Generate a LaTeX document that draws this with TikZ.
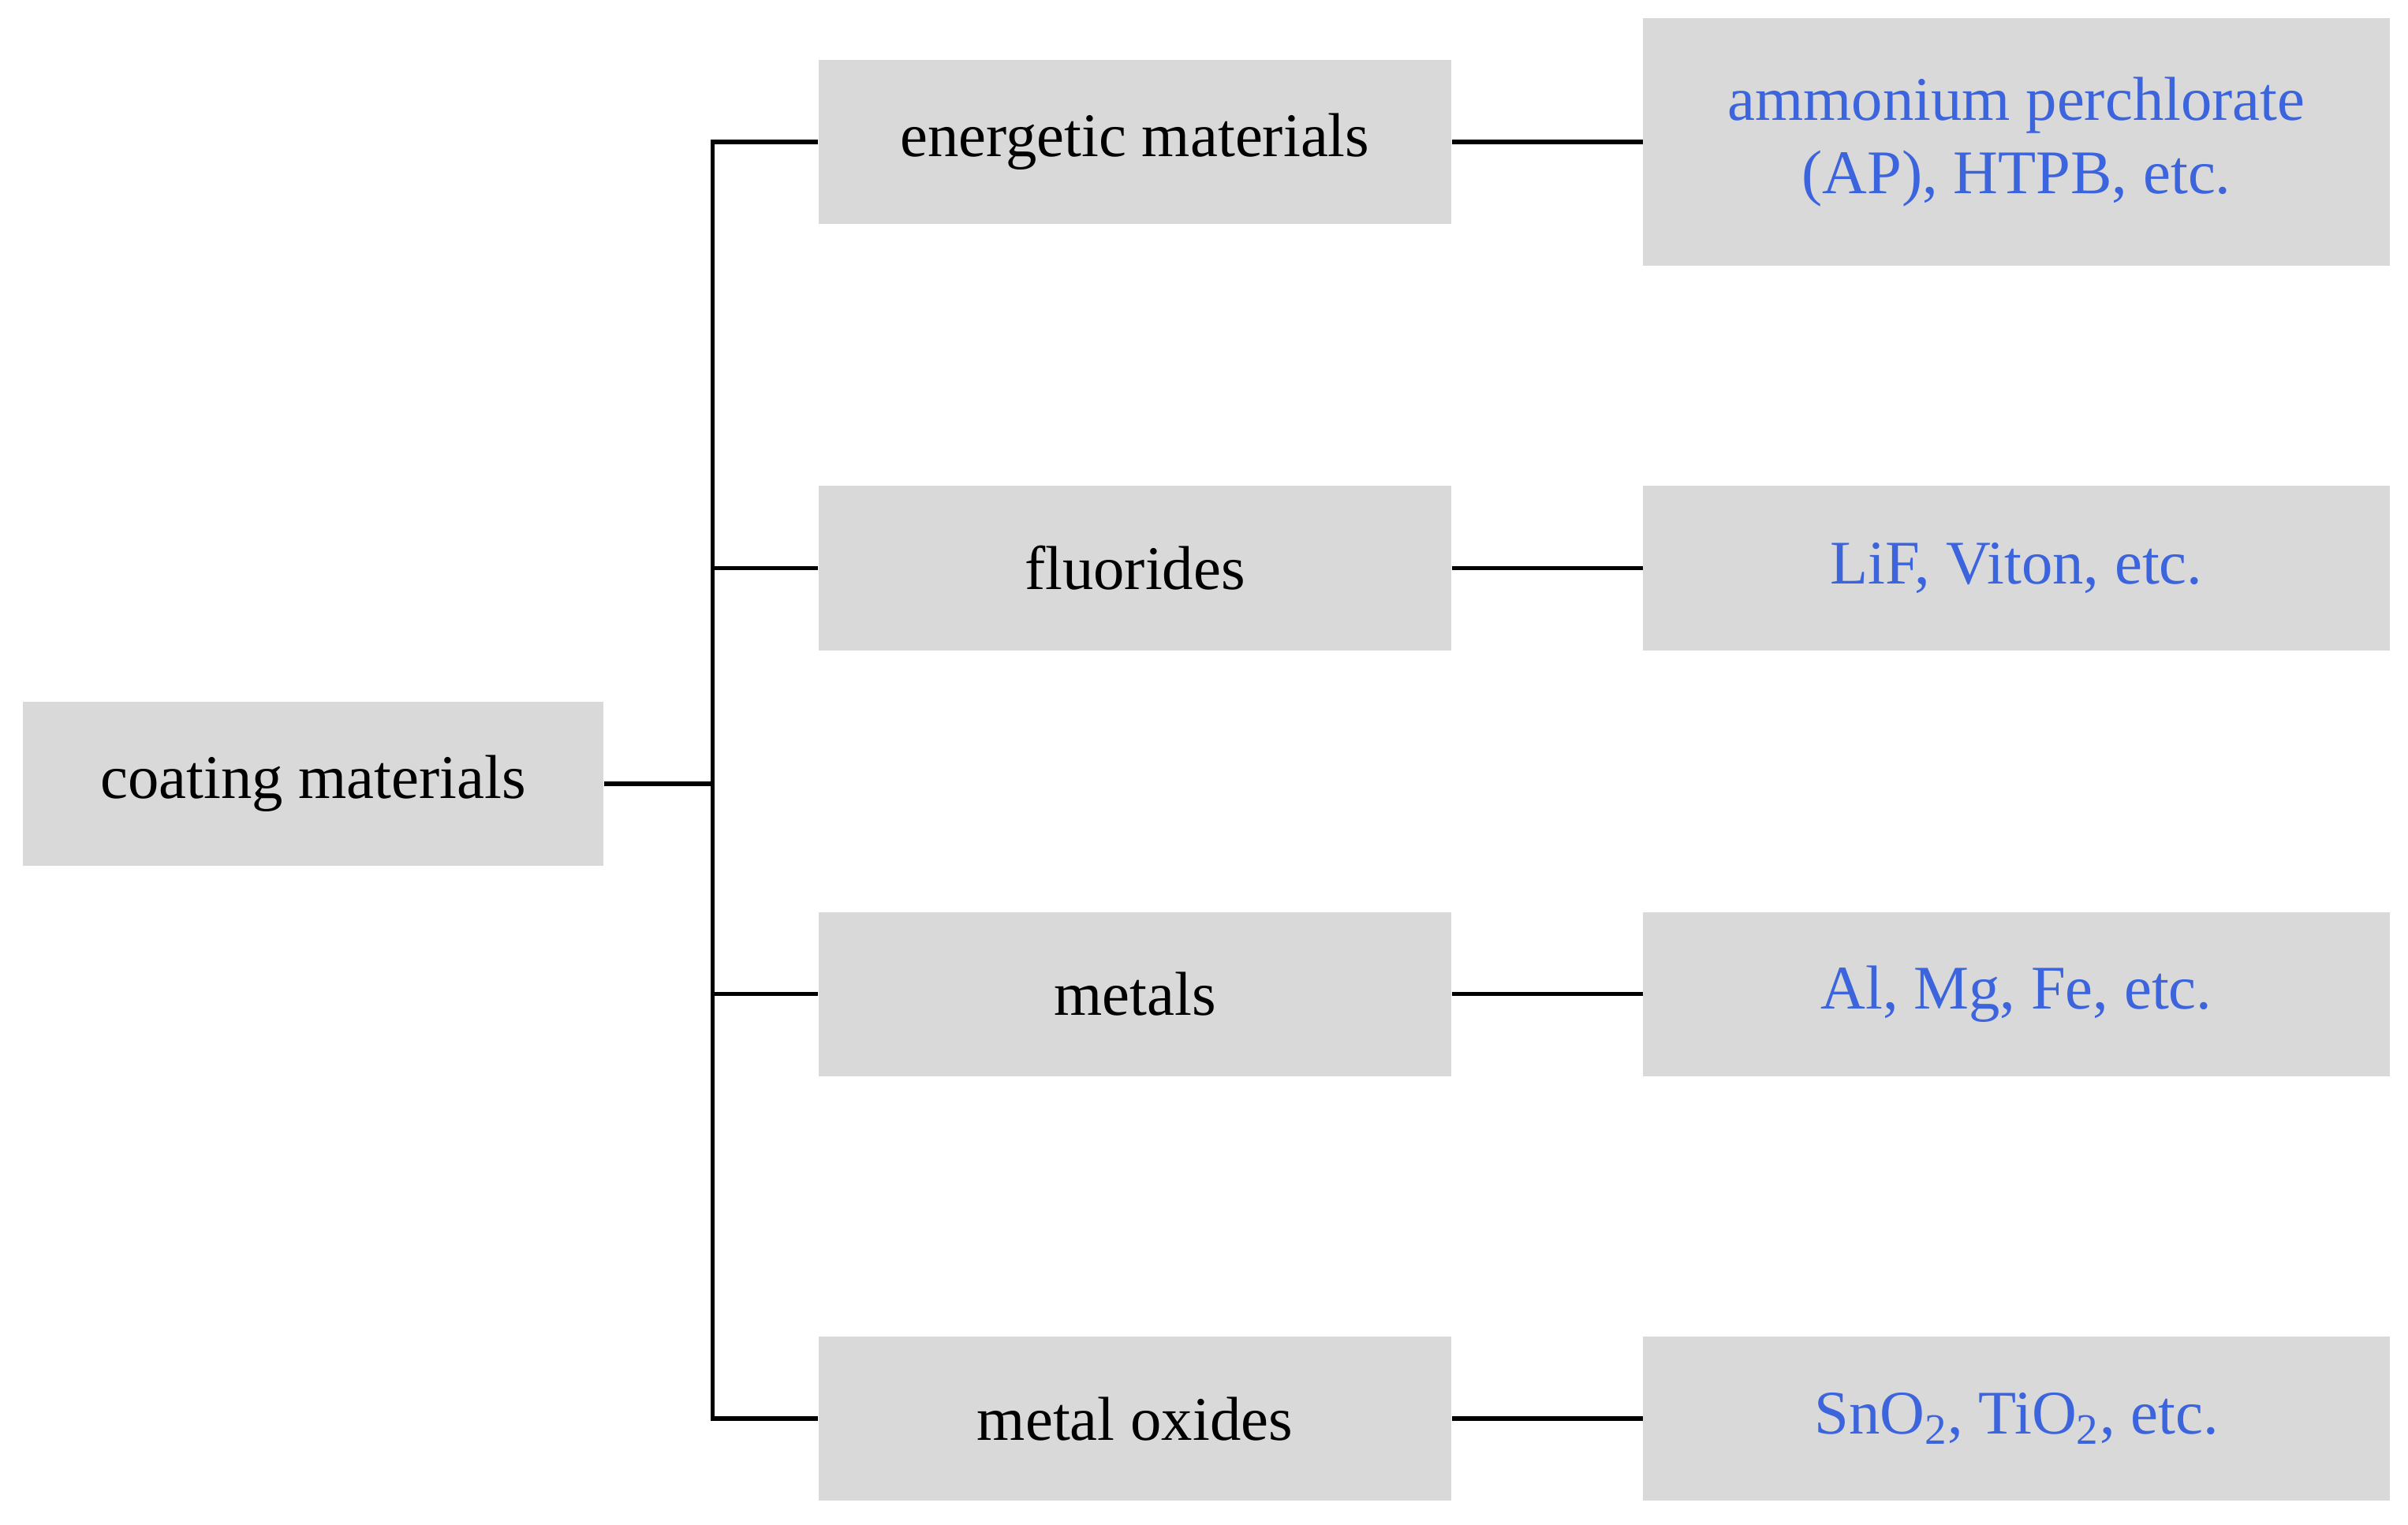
\documentclass[tikz,border=0pt]{standalone}
\usepackage{fontspec}
\setmainfont{Liberation Serif}
\definecolor{boxg}{RGB}{217,217,217}
\definecolor{txtb}{RGB}{60,100,220}
\begin{document}
\begin{tikzpicture}[x=0.02cm,y=-0.02cm,
  box/.style={fill=boxg,draw=none,inner sep=0pt,font=\fontsize{23}{27}\selectfont,align=center},
  ex/.style={box,text=txtb},
  ln/.style={line width=1.6pt}]
\useasboundingbox (0,0) rectangle (1568,993);
\node[box,minimum width=378*0.02cm,minimum height=107*0.02cm] (c) at (204,510.5) {coating materials};
\foreach \n/\y/\t in {e/92.5/energetic materials, f/370/fluorides, m/647.5/metals, o/924/metal oxides}{
  \node[box,minimum width=412*0.02cm,minimum height=107*0.02cm] (\n) at (739,\y) {\t};
}
\node[ex,minimum width=486*0.02cm,minimum height=161*0.02cm] (e2) at (1313,92.5) {ammonium perchlorate\\(AP), HTPB, etc.};
\node[ex,minimum width=486*0.02cm,minimum height=107*0.02cm] (f2) at (1313,370) {LiF, Viton, etc.};
\node[ex,minimum width=486*0.02cm,minimum height=107*0.02cm] (m2) at (1313,647.5) {Al, Mg, Fe, etc.};
\node[ex,minimum width=486*0.02cm,minimum height=107*0.02cm] (o2) at (1313,924) {SnO\textsubscript{2}, TiO\textsubscript{2}, etc.};
\coordinate (t) at (464,510.5);
\draw[ln] (c.east) -- (t);
\draw[ln] (e.west) -| (t) |- (o.west);
\draw[ln] (f.west) -- (f.west -| t);
\draw[ln] (m.west) -- (m.west -| t);
\foreach \n in {e,f,m,o}{ \draw[ln] (\n.east) -- (\n2.west); }
\end{tikzpicture}
\end{document}
